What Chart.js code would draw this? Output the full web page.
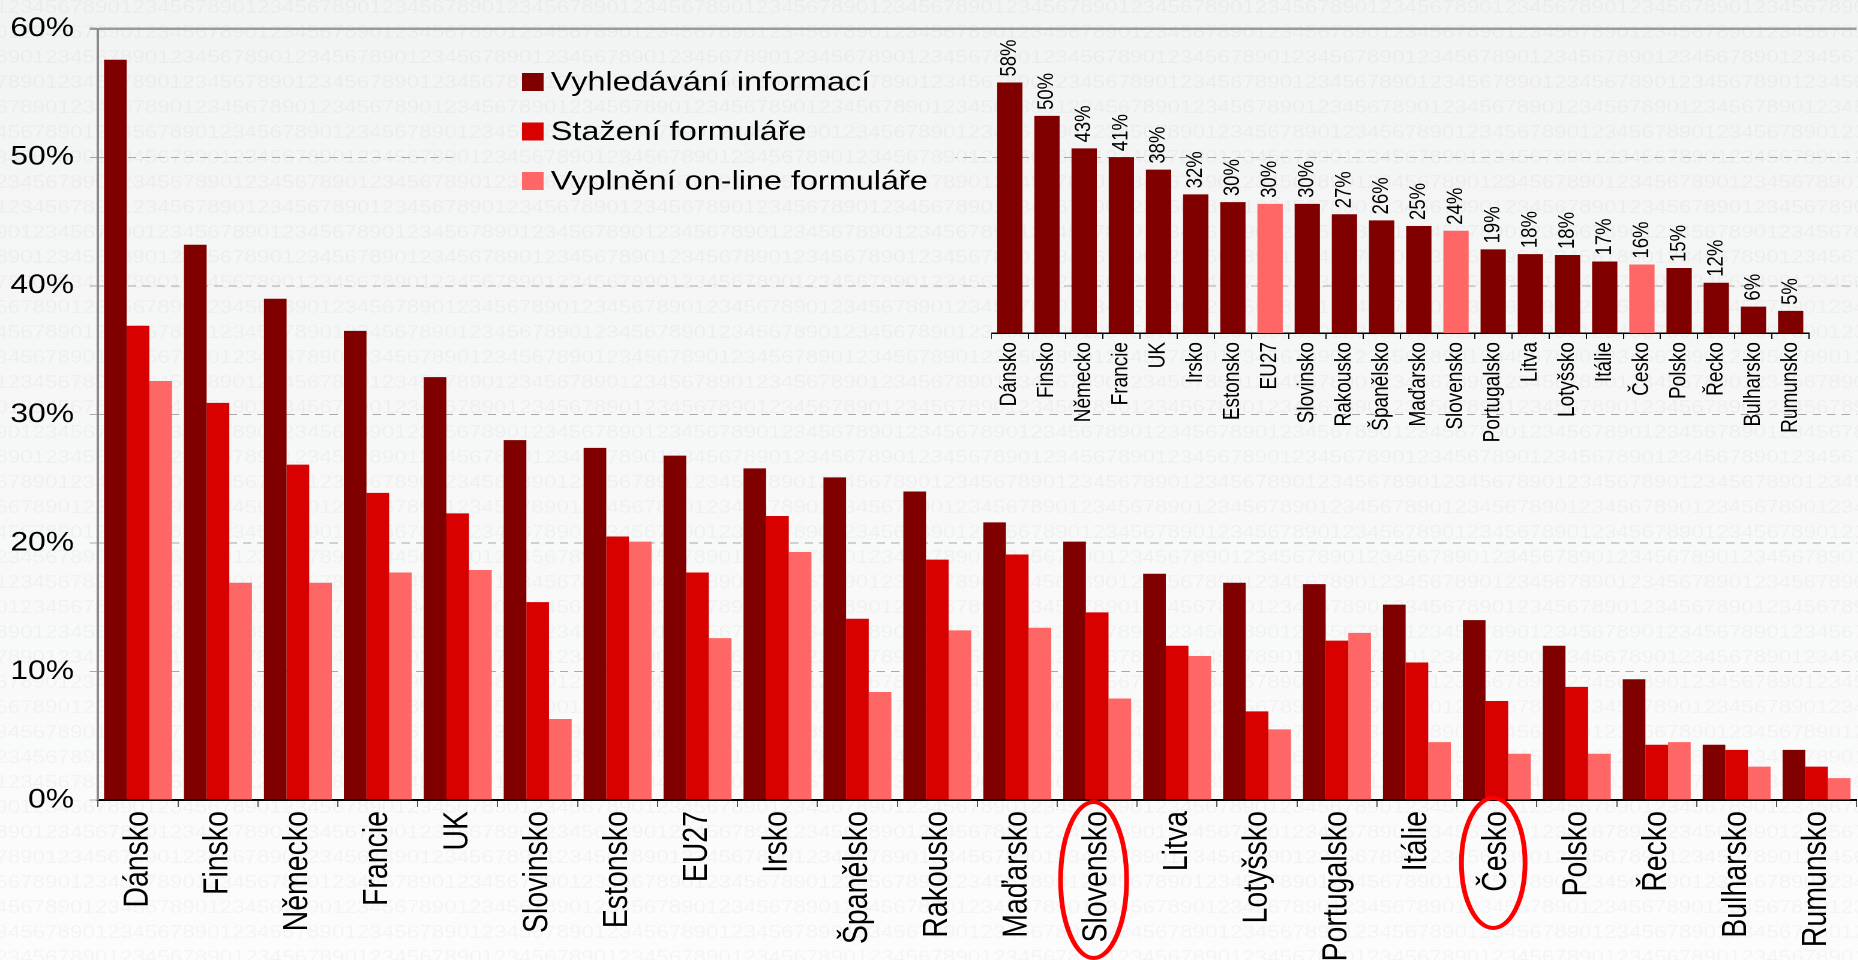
<!DOCTYPE html>
<html><head><meta charset="utf-8">
<script src="https://cdn.jsdelivr.net/npm/chart.js@4.4.0/dist/chart.umd.min.js"></script>
<style>
html,body{margin:0;padding:0;width:1858px;height:960px;overflow:hidden;background:linear-gradient(#f2f3f3,#fcfcfc);}
#wrap{position:absolute;left:0;top:0;width:1552px;height:960px;transform:scaleX(1.2);transform-origin:0 0;}
#wm{position:absolute;left:0;top:-6px;width:1552px;height:990px;overflow:hidden;font-family:'Liberation Sans',Arial,sans-serif;font-size:18.7px;line-height:25px;color:rgba(0,0,0,0.032);white-space:pre;}
#main{position:absolute;left:0;top:0;width:1552px;height:960px;}
#inset{position:absolute;left:825.5px;top:0;width:692px;height:460px;}
</style></head><body>
<div id="wrap"><div id="wm"></div><canvas id="main" width="1552" height="960"></canvas><canvas id="inset" width="692" height="460"></canvas></div>
<script>
// ---- data ----
const categories = ['Dánsko','Finsko','Německo','Francie','UK','Slovinsko','Estonsko','EU27','Irsko','Španělsko','Rakousko','Maďarsko','Slovensko','Litva','Lotyšsko','Portugalsko','Itálie','Česko','Polsko','Řecko','Bulharsko','Rumunsko'];
const seriesNames = ['Vyhledávání informací','Stažení formuláře','Vyplnění on-line formuláře'];
const searchInfo   = [57.6,43.2,39.0,36.5,32.9,28.0,27.4,26.8,25.8,25.1,24.0,21.6,20.1,17.6,16.9,16.8,15.2,14.0,12.0,9.4,4.3,3.9];
const downloadForm = [36.9,30.9,26.1,23.9,22.3,15.4,20.5,17.7,22.1,14.1,18.7,19.1,14.6,12.0,6.9,12.4,10.7,7.7,8.8,4.3,3.9,2.6];
const fillForm     = [32.6,16.9,16.9,17.7,17.9,6.3,20.1,12.6,19.3,8.4,13.2,13.4,7.9,11.2,5.5,13.0,4.5,3.6,3.6,4.5,2.6,1.7];
const yTickValues  = [0,10,20,30,40,50,60];
const insetCategories = ['Dánsko','Finsko','Německo','Francie','UK','Irsko','Estonsko','EU27','Slovinsko','Rakousko','Španělsko','Maďarsko','Slovensko','Portugalsko','Litva','Lotyšsko','Itálie','Česko','Polsko','Řecko','Bulharsko','Rumunsko'];
const insetValues = [57.8,50.1,42.6,40.6,37.7,32.0,30.2,29.8,29.8,27.4,26.0,24.7,23.6,19.3,18.2,18.0,16.5,15.8,15.0,11.6,6.1,5.1];
const insetHighlight = ['EU27','Slovensko','Česko'];
const circled = ['Slovensko','Česko'];

// ---- watermark background text ----
(function(){
  const wm = document.getElementById('wm');
  const dw = 18.7*0.556;
  let h = '';
  for (let r = 0; r < 41; r++) {
    const m = ((10 - Math.round(r*1.3)) % 10 + 10) % 10;
    h += '<div style="margin-left:' + (-(m*dw) - 4) + 'px">' + '1234567890'.repeat(17) + '</div>';
  }
  wm.innerHTML = h;
})();

Chart.defaults.font.family = "'Liberation Sans', Arial, sans-serif";
Chart.defaults.color = '#000';
const colors = ['#800000','#d90000','#ff6666'];
const FONT = "'Liberation Sans', Arial, sans-serif";

const legendArea = {left: 382, top: 40, right: 796, bottom: 215};
const legendStyle = {boxX: 435, boxSize: 18, textX: 459, firstY: 82, step: 49.5, fontSize: 27};

const clearLegendPlugin = {
  id: 'clearLegend',
  beforeDatasetsDraw(chart) {
    chart.ctx.clearRect(legendArea.left, legendArea.top, legendArea.right - legendArea.left, legendArea.bottom - legendArea.top);
  }
};
const legendPlugin = {
  id: 'customLegend',
  afterDraw(chart) {
    const ctx = chart.ctx;
    ctx.save();
    ctx.font = legendStyle.fontSize + 'px ' + FONT;
    ctx.textBaseline = 'middle';
    ctx.textAlign = 'left';
    chart.data.datasets.forEach((ds, i) => {
      const cy = legendStyle.firstY + i*legendStyle.step;
      ctx.fillStyle = ds.backgroundColor;
      ctx.fillRect(legendStyle.boxX, cy - legendStyle.boxSize/2, legendStyle.boxSize, legendStyle.boxSize);
      ctx.fillStyle = '#000';
      ctx.fillText(ds.label, legendStyle.textX, cy + 1);
    });
    ctx.restore();
  }
};
const ellipseStyle = {'Slovensko': {dy: 80, rx: 27.5, ry: 78}, 'Česko': {dy: 63, rx: 26.5, ry: 65}};
const ellipsePlugin = {
  id: 'ellipses',
  afterDraw(chart) {
    const ctx = chart.ctx, xs = chart.scales.x, area = chart.chartArea;
    ctx.save();
    ctx.strokeStyle = '#ff0000';
    ctx.lineWidth = 4;
    circled.forEach(name => {
      const idx = categories.indexOf(name);
      const st = ellipseStyle[name];
      const cx = xs.getPixelForValue(idx) - 3;
      ctx.beginPath();
      ctx.ellipse(cx, area.bottom + st.dy, st.rx, st.ry, 0, 0, Math.PI*2);
      ctx.stroke();
    });
    ctx.restore();
  }
};

new Chart(document.getElementById('main'), {
  type: 'bar',
  data: {
    labels: categories,
    datasets: [
      {label: seriesNames[0], data: searchInfo, backgroundColor: colors[0]},
      {label: seriesNames[1], data: downloadForm, backgroundColor: colors[1]},
      {label: seriesNames[2], data: fillForm, backgroundColor: colors[2]}
    ]
  },
  options: {
    responsive: false, animation: false, devicePixelRatio: 2,
    datasets: {bar: {barPercentage: 1.0, categoryPercentage: 0.85}},
    layout: {padding: {top: 24, left: 0, right: 0, bottom: 0}},
    plugins: {legend: {display: false}, tooltip: {enabled: false}},
    scales: {
      x: {
        ticks: {font: {size: 28.5}, minRotation: 90, maxRotation: 90, padding: 4, autoSkip: false, color: '#000'},
        grid: {drawOnChartArea: false, tickLength: 7, color: '#555', offset: true},
        border: {color: '#000', width: 2},
        afterFit: s => { s.height = 160; }
      },
      y: {
        min: 0, max: 60,
        afterBuildTicks: s => { s.ticks = yTickValues.map(v => ({value: v})); },
        ticks: {font: {size: 26.5}, padding: 13, color: '#000', callback: v => v + '%'},
        grid: {
          color: c => (c.tick && c.tick.value === 60) ? '#9a9a9a' : '#a9a9a9',
          lineWidth: c => (c.tick && c.tick.value === 60) ? 2.5 : 1,
          tickLength: 7
        },
        border: {display: true, color: '#8a8a8a', width: 2, dash: c => (c.tick && c.tick.value === 60) ? [] : [7,5]},
        afterFit: s => { s.width = 81.7; }
      }
    }
  },
  plugins: [clearLegendPlugin, legendPlugin, ellipsePlugin]
});

const insetLabelPlugin = {
  id: 'insetLabels',
  afterDatasetsDraw(chart) {
    const ctx = chart.ctx;
    const meta = chart.getDatasetMeta(0);
    ctx.save();
    ctx.font = '18.5px ' + FONT;
    ctx.fillStyle = '#000';
    ctx.textAlign = 'left';
    ctx.textBaseline = 'middle';
    meta.data.forEach((bar, i) => {
      ctx.save();
      ctx.translate(bar.x, bar.y - 6);
      ctx.rotate(-Math.PI/2);
      ctx.fillText(Math.round(insetValues[i]) + '%', 0, 0);
      ctx.restore();
    });
    ctx.restore();
  }
};

new Chart(document.getElementById('inset'), {
  type: 'bar',
  data: {
    labels: insetCategories,
    datasets: [{
      data: insetValues,
      backgroundColor: insetCategories.map(c => insetHighlight.includes(c) ? '#ff6666' : '#800000'),
      barPercentage: 0.68, categoryPercentage: 1.0
    }]
  },
  options: {
    responsive: false, animation: false, devicePixelRatio: 2,
    layout: {padding: {top: 73, left: 0, right: 0, bottom: 0}},
    plugins: {legend: {display: false}, tooltip: {enabled: false}},
    scales: {
      x: {
        ticks: {font: {size: 19}, minRotation: 90, maxRotation: 90, padding: 3, autoSkip: false, color: '#000'},
        grid: {drawOnChartArea: false, tickLength: 6, color: '#000', offset: true},
        border: {color: '#000', width: 1.5},
        afterFit: s => { s.height = 127; }
      },
      y: {display: false, min: 0, max: 60}
    }
  },
  plugins: [insetLabelPlugin]
});
</script>
</body></html>
